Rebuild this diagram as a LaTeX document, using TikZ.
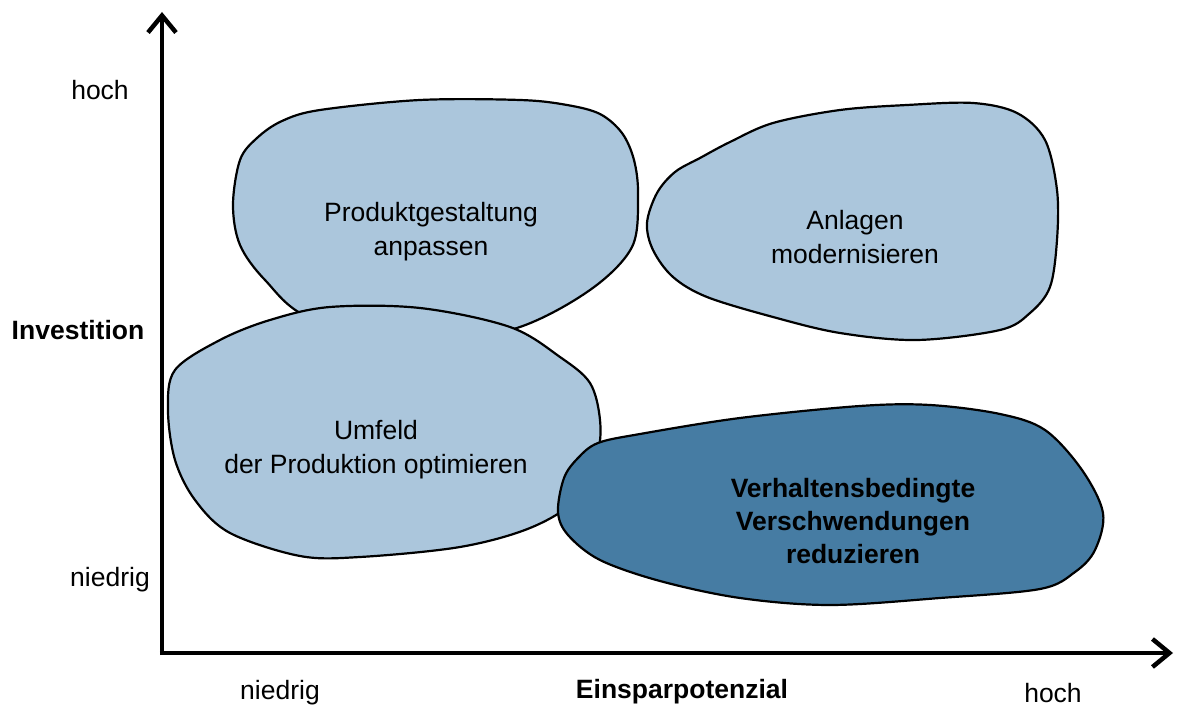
\documentclass[tikz,border=0pt]{standalone}
\usepackage{fontspec}
\setmainfont{Liberation Sans}
\usetikzlibrary{arrows.meta}
\definecolor{blobLight}{RGB}{171,198,220}
\definecolor{blobDark}{RGB}{70,124,163}
\begin{document}
\begin{tikzpicture}[x=1pt,y=-1pt,
  blob/.style={draw=black,line width=2.2pt,line join=round},
  lbl/.style={font=\fontsize{26.5}{34}\selectfont,align=center,inner sep=0pt},
  boldlbl/.style={lbl,font=\fontsize{26.5}{33}\selectfont\bfseries},
  axis/.style={line width=4.5pt,-{Straight Barb[length=17pt,width=28pt,line width=4.5pt]}}]
\useasboundingbox (0,0) rectangle (1181,708);

% upper left area
\draw[blob,fill=blobLight] plot[smooth cycle,tension=0.55] coordinates
  {(233,205) (240,160) (257,138) (282,121) (320,110) (420,100) (520,100) (567,105)
   (600,114) (622,133) (634,160) (638,195) (632,247) (590,290) (517,328) (420,345)
   (310,318) (265,280) (240,245)};
% upper right area
\draw[blob,fill=blobLight] plot[smooth cycle,tension=0.55] coordinates
  {(647,223) (657,193) (675,172) (700,158) (730,142) (773,123) (840,110) (907,105)
   (973,103) (1017,113) (1045,140) (1057,190) (1057,240) (1050,287) (1030,313) (1000,330)
   (917,340) (840,333) (773,317) (707,297) (673,277) (653,250)};
% lower left area
\draw[blob,fill=blobLight] plot[smooth cycle,tension=0.55] coordinates
  {(168,410) (175,370) (220,340) (270,320) (330,307) (420,308) (510,327) (560,357)
   (590,383) (600,420) (597,455) (575,500) (530,528) (460,547) (360,557) (300,556)
   (230,533) (195,500) (175,460)};
% lower right area
\draw[blob,fill=blobDark] plot[smooth cycle,tension=0.55] coordinates
  {(598,443) (640,434) (740,418) (860,406) (930,405) (1000,414) (1045,430) (1082,470)
   (1103,513) (1095,550) (1075,572) (1040,589) (940,598) (830,605) (740,598) (660,581)
   (600,560) (568,535) (558,512) (564,478) (578,458)};

% area labels
\node[lbl] (prod) at (431,232) {Produktgestaltung\\anpassen};
\node[lbl] (anl) at (855,237) {Anlagen\\modernisieren};
\node[lbl] (umf) at (376,450) {Umfeld\\der Produktion optimieren};
\node[boldlbl] (verh) at (853,521) {Verhaltensbedingte\\Verschwendungen\\reduzieren};

% axes
\coordinate (origin) at (162,653);
\coordinate (ytip) at (162,12);
\coordinate (xtip) at (1173,653);
\draw[axis] (162,655) -- (ytip);
\draw[axis] (origin) ++(-2.2,0) -- (xtip);

% axis labels
\node[lbl] (yhigh) at (100,90) {hoch};
\node[boldlbl] (ytitle) at (78,330) {Investition};
\node[lbl] (ylow) at (110,580) {niedrig};
\node[lbl] (xlow) at (280,693) {niedrig};
\node[boldlbl] (xtitle) at (682,692) {Einsparpotenzial};
\node[lbl] (xhigh) at (1053,693) {hoch};
\end{tikzpicture}
\end{document}
